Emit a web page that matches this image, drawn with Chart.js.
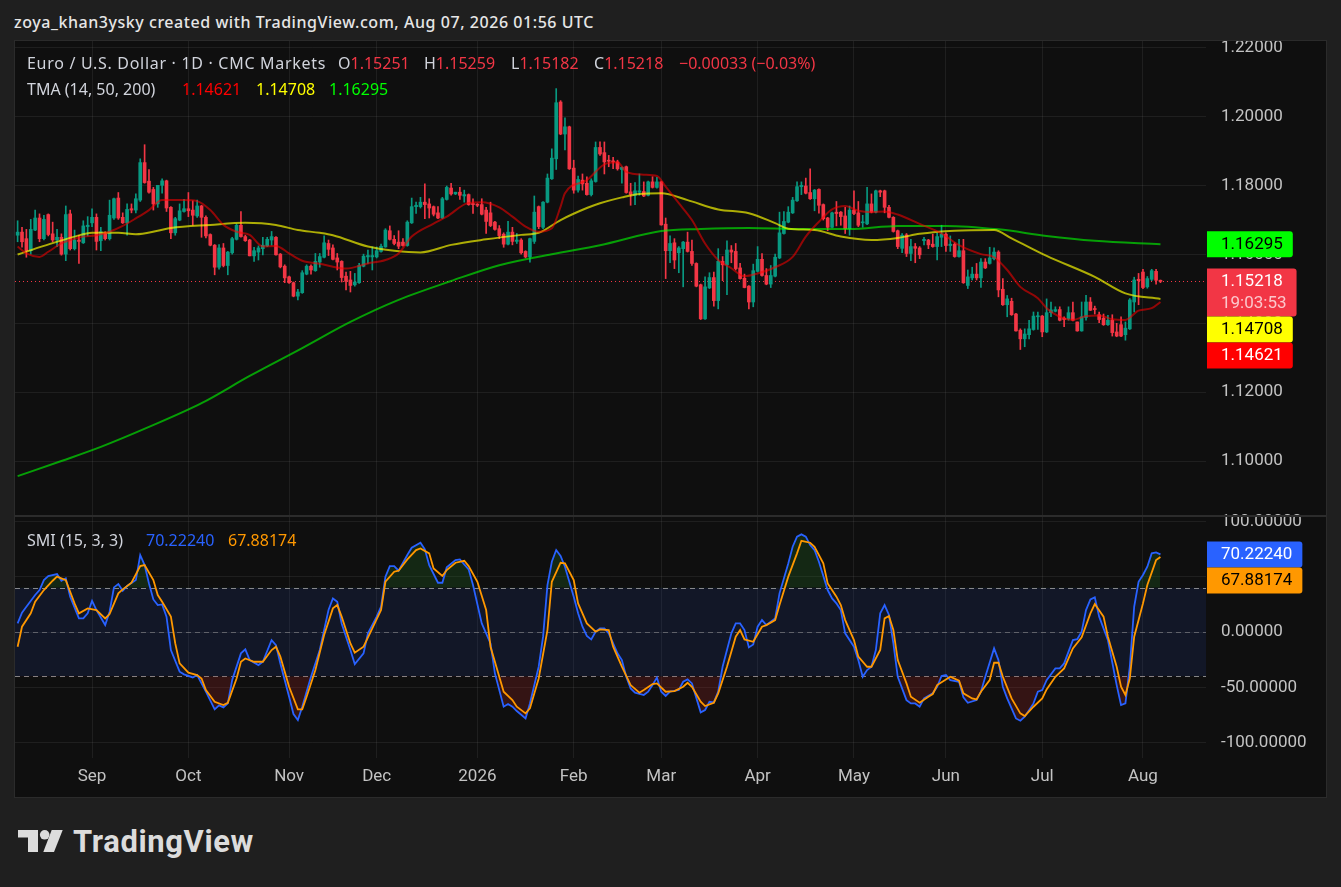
<!DOCTYPE html>
<html lang="en">
<head>
<meta charset="UTF-8">
<title>Euro / U.S. Dollar 1D</title>
<script src="https://cdn.jsdelivr.net/npm/chart.js"></script>
<style>
  html, body { margin: 0; padding: 0; background: #1f1f1f; }
  body { width: 1341px; height: 887px; position: relative; overflow: hidden; font-family: Roboto, "Noto Sans", sans-serif; }
  #header { position: absolute; left: 14px; top: 11px; line-height: 22px; color: #e6e6e6; font-family: "Noto Sans", sans-serif; font-size: 16px; font-weight: 500; letter-spacing: 0.55px; }
  #panel { position: absolute; left: 14px; top: 40px; width: 1311px; height: 756px; border: 1px solid #2b2b2b; background: #0f0f0f; }
  #panel canvas { position: absolute; left: 0; top: 0; }
  .lg { position: absolute; font-family: "Noto Sans", sans-serif; font-size: 16px; line-height: 20px; white-space: nowrap; color: #d1d4dc; }
  .dn { color: #f23645; }
  #brand { position: absolute; left: 73px; top: 826px; line-height: 31px; font-size: 31px; font-weight: 700; color: #dcdcdc; letter-spacing: 0.6px; }
</style>
</head>
<body>

<div id="header">zoya_khan3ysky created with TradingView.com, Aug 07, 2026 01:56 UTC</div>

<div id="panel"><canvas id="chart" width="1311" height="756"></canvas></div>

<!-- legends -->
<div class="lg" style="left:27px;top:53px;letter-spacing:0.7px">Euro / U.S. Dollar · 1D · CMC Markets</div>
<div class="lg" style="left:338px;top:53px">O<span class="dn" id="vO"></span></div>
<div class="lg" style="left:424px;top:53px">H<span class="dn" id="vH"></span></div>
<div class="lg" style="left:511px;top:53px">L<span class="dn" id="vL"></span></div>
<div class="lg" style="left:594px;top:53px">C<span class="dn" id="vC"></span></div>
<div class="lg dn" style="left:679px;top:53px" id="vChg"></div>

<div class="lg" style="left:27px;top:79px">TMA (14, 50, 200)</div>
<div class="lg" style="left:182px;top:79px;color:#ff0000" id="vT14"></div>
<div class="lg" style="left:256px;top:79px;color:#ffff00" id="vT50"></div>
<div class="lg" style="left:329px;top:79px;color:#00ff00" id="vT200"></div>

<div class="lg" style="left:27px;top:530px">SMI (15, 3, 3)</div>
<div class="lg" style="left:146px;top:530px;color:#2962ff" id="vSmi"></div>
<div class="lg" style="left:228px;top:530px;color:#ff9800" id="vSig"></div>

<!-- logo -->
<svg width="46" height="24" viewBox="0 0 46 24" style="position:absolute;left:18px;top:830px">
  <path d="M0 0H20V22H10V7.5H0Z" fill="#dcdcdc"/>
  <circle cx="26.7" cy="4.8" r="4.8" fill="#dcdcdc"/>
  <path d="M33.7 0H44.7L36 22H25.3Z" fill="#dcdcdc"/>
</svg>
<div id="brand">TradingView</div>

<script>
// daily candles, 7 Aug 2025 .. 7 Aug 2026 (bar index 0..261)
const opens = [
  1.1656,1.1665,1.1646,1.1611,1.1671,1.1706,1.1646,1.1716,1.1660,1.1642,
  1.1650,1.1601,1.1718,1.1617,1.1642,1.1634,1.1681,1.1692,1.1708,1.1640,
  1.1660,1.1646,1.1706,1.1764,1.1708,1.1692,1.1733,1.1729,1.1758,1.1867,
  1.1813,1.1789,1.1747,1.1801,1.1814,1.1737,1.1663,1.1700,1.1725,1.1733,
  1.1729,1.1712,1.1741,1.1708,1.1658,1.1627,1.1563,1.1619,1.1568,1.1605,
  1.1644,1.1685,1.1652,1.1642,1.1596,1.1607,1.1617,1.1625,1.1642,1.1650,
  1.1601,1.1566,1.1535,1.1518,1.1479,1.1489,1.1543,1.1566,1.1553,1.1578,
  1.1592,1.1632,1.1619,1.1590,1.1580,1.1537,1.1526,1.1512,1.1518,1.1566,
  1.1593,1.1593,1.1593,1.1609,1.1622,1.1669,1.1644,1.1636,1.1636,1.1626,
  1.1692,1.1739,1.1739,1.1752,1.1747,1.1739,1.1721,1.1706,1.1760,1.1793,
  1.1776,1.1781,1.1770,1.1774,1.1747,1.1745,1.1745,1.1729,1.1721,1.1694,
  1.1675,1.1659,1.1630,1.1665,1.1638,1.1642,1.1609,1.1593,1.1638,1.1739,
  1.1679,1.1752,1.1820,1.1878,1.2043,1.1950,1.1971,1.1851,1.1787,1.1816,
  1.1807,1.1774,1.1812,1.1911,1.1896,1.1874,1.1872,1.1869,1.1847,1.1855,
  1.1782,1.1772,1.1781,1.1783,1.1772,1.1811,1.1795,1.1811,1.1688,1.1611,
  1.1634,1.1605,1.1617,1.1636,1.1609,1.1574,1.1512,1.1413,1.1503,1.1533,
  1.1466,1.1580,1.1570,1.1613,1.1609,1.1561,1.1531,1.1508,1.1462,1.1551,
  1.1586,1.1539,1.1514,1.1537,1.1590,1.1661,1.1694,1.1721,1.1756,1.1797,
  1.1799,1.1780,1.1762,1.1789,1.1745,1.1706,1.1679,1.1723,1.1723,1.1712,
  1.1675,1.1729,1.1721,1.1692,1.1689,1.1747,1.1723,1.1785,1.1785,1.1737,
  1.1708,1.1669,1.1618,1.1657,1.1603,1.1623,1.1619,1.1640,1.1642,1.1630,
  1.1623,1.1650,1.1659,1.1626,1.1630,1.1594,1.1611,1.1510,1.1532,1.1543,
  1.1532,1.1578,1.1574,1.1588,1.1607,1.1499,1.1454,1.1464,1.1427,1.1380,
  1.1355,1.1367,1.1382,1.1419,1.1421,1.1375,1.1431,1.1435,1.1440,1.1415,
  1.1413,1.1431,1.1404,1.1378,1.1417,1.1462,1.1442,1.1425,1.1415,1.1396,
  1.1409,1.1375,1.1396,1.1367,1.1384,1.1462,1.1528,1.1549,1.1506,1.1528,
  1.1551,1.15251
];
const highs = [
  1.1698,1.1679,1.1673,1.1702,1.1729,1.1718,1.1714,1.1718,1.1694,1.1673,
  1.1660,1.1741,1.1729,1.1671,1.1656,1.1698,1.1710,1.1733,1.1718,1.1679,
  1.1666,1.1758,1.1764,1.1780,1.1721,1.1747,1.1747,1.1776,1.1878,1.1919,
  1.1847,1.1795,1.1801,1.1820,1.1816,1.1739,1.1708,1.1747,1.1760,1.1780,
  1.1756,1.1758,1.1743,1.1712,1.1660,1.1629,1.1629,1.1632,1.1609,1.1650,
  1.1689,1.1725,1.1656,1.1644,1.1621,1.1625,1.1650,1.1650,1.1667,1.1652,
  1.1603,1.1570,1.1537,1.1520,1.1499,1.1553,1.1570,1.1570,1.1603,1.1603,
  1.1654,1.1642,1.1628,1.1603,1.1582,1.1549,1.1551,1.1545,1.1574,1.1601,
  1.1613,1.1622,1.1622,1.1630,1.1675,1.1683,1.1655,1.1669,1.1646,1.1698,
  1.1764,1.1752,1.1766,1.1805,1.1762,1.1741,1.1739,1.1766,1.1799,1.1807,
  1.1781,1.1795,1.1787,1.1776,1.1762,1.1748,1.1762,1.1737,1.1752,1.1696,
  1.1684,1.1663,1.1696,1.1679,1.1661,1.1646,1.1611,1.1648,1.1770,1.1741,
  1.1754,1.1834,1.1907,1.2082,1.2047,1.1997,1.1973,1.1874,1.1828,1.1834,
  1.1826,1.1820,1.1927,1.1927,1.1927,1.1888,1.1882,1.1874,1.1855,1.1857,
  1.1807,1.1809,1.1834,1.1811,1.1813,1.1826,1.1824,1.1813,1.1706,1.1654,
  1.1646,1.1623,1.1638,1.1665,1.1642,1.1576,1.1514,1.1535,1.1547,1.1549,
  1.1617,1.1594,1.1640,1.1626,1.1632,1.1574,1.1543,1.1510,1.1572,1.1623,
  1.1603,1.1559,1.1568,1.1601,1.1723,1.1725,1.1739,1.1766,1.1811,1.1811,
  1.1822,1.1849,1.1789,1.1791,1.1747,1.1708,1.1723,1.1754,1.1725,1.1737,
  1.1741,1.1785,1.1754,1.1714,1.1795,1.1776,1.1787,1.1787,1.1787,1.1743,
  1.1710,1.1671,1.1661,1.1661,1.1644,1.1632,1.1623,1.1650,1.1644,1.1659,
  1.1663,1.1685,1.1663,1.1654,1.1634,1.1644,1.1644,1.1555,1.1563,1.1574,
  1.1588,1.1588,1.1621,1.1619,1.1611,1.1530,1.1481,1.1473,1.1429,1.1384,
  1.1384,1.1409,1.1433,1.1433,1.1423,1.1471,1.1462,1.1448,1.1448,1.1419,
  1.1448,1.1462,1.1404,1.1462,1.1481,1.1475,1.1450,1.1433,1.1427,1.1423,
  1.1425,1.1400,1.1419,1.1404,1.1472,1.1534,1.1545,1.1557,1.1536,1.1557,
  1.1557,1.15259
];
const lows = [
  1.1637,1.1621,1.1592,1.1601,1.1669,1.1637,1.1642,1.1654,1.1637,1.1623,
  1.1598,1.1582,1.1613,1.1613,1.1574,1.1632,1.1654,1.1681,1.1613,1.1611,
  1.1642,1.1642,1.1702,1.1702,1.1690,1.1656,1.1721,1.1721,1.1754,1.1807,
  1.1778,1.1729,1.1737,1.1778,1.1725,1.1646,1.1656,1.1698,1.1723,1.1710,
  1.1685,1.1708,1.1650,1.1648,1.1625,1.1541,1.1557,1.1564,1.1541,1.1601,
  1.1642,1.1650,1.1638,1.1596,1.1580,1.1584,1.1599,1.1623,1.1627,1.1598,
  1.1561,1.1518,1.1516,1.1477,1.1468,1.1487,1.1541,1.1543,1.1551,1.1563,
  1.1590,1.1597,1.1584,1.1555,1.1520,1.1497,1.1491,1.1508,1.1516,1.1564,
  1.1574,1.1555,1.1590,1.1607,1.1621,1.1642,1.1628,1.1617,1.1624,1.1624,
  1.1690,1.1719,1.1735,1.1704,1.1706,1.1712,1.1704,1.1704,1.1758,1.1772,
  1.1774,1.1760,1.1752,1.1743,1.1719,1.1739,1.1715,1.1661,1.1681,1.1671,
  1.1646,1.1621,1.1628,1.1628,1.1632,1.1601,1.1590,1.1578,1.1632,1.1675,
  1.1675,1.1750,1.1818,1.1847,1.1948,1.1904,1.1847,1.1778,1.1781,1.1787,
  1.1772,1.1770,1.1810,1.1888,1.1834,1.1855,1.1849,1.1845,1.1807,1.1778,
  1.1743,1.1745,1.1772,1.1768,1.1770,1.1793,1.1793,1.1685,1.1530,1.1576,
  1.1559,1.1547,1.1506,1.1607,1.1568,1.1506,1.1411,1.1411,1.1501,1.1450,
  1.1442,1.1524,1.1483,1.1576,1.1555,1.1528,1.1503,1.1442,1.1448,1.1549,
  1.1537,1.1512,1.1504,1.1535,1.1588,1.1659,1.1692,1.1719,1.1754,1.1774,
  1.1776,1.1760,1.1727,1.1720,1.1700,1.1669,1.1677,1.1683,1.1685,1.1661,
  1.1656,1.1716,1.1681,1.1679,1.1687,1.1721,1.1721,1.1768,1.1721,1.1706,
  1.1665,1.1617,1.1605,1.1594,1.1582,1.1576,1.1588,1.1628,1.1617,1.1621,
  1.1584,1.1623,1.1609,1.1609,1.1592,1.1592,1.1516,1.1501,1.1526,1.1526,
  1.1504,1.1559,1.1572,1.1584,1.1477,1.1452,1.1419,1.1423,1.1377,1.1324,
  1.1332,1.1355,1.1380,1.1382,1.1361,1.1373,1.1419,1.1433,1.1407,1.1390,
  1.1409,1.1407,1.1377,1.1377,1.1409,1.1437,1.1427,1.1402,1.1394,1.1394,
  1.1363,1.1361,1.1361,1.1351,1.1382,1.1433,1.1454,1.1501,1.1502,1.1524,
  1.1514,1.15182
];
const closes = [
  1.1665,1.1637,1.1611,1.1673,1.1706,1.1646,1.1702,1.1658,1.1642,1.1650,
  1.1601,1.1716,1.1617,1.1642,1.1638,1.1683,1.1685,1.1708,1.1638,1.1666,
  1.1646,1.1714,1.1762,1.1706,1.1692,1.1731,1.1729,1.1762,1.1867,1.1809,
  1.1781,1.1747,1.1801,1.1814,1.1735,1.1663,1.1704,1.1727,1.1733,1.1727,
  1.1714,1.1741,1.1708,1.1654,1.1627,1.1563,1.1619,1.1568,1.1607,1.1646,
  1.1685,1.1652,1.1640,1.1596,1.1611,1.1619,1.1627,1.1644,1.1652,1.1599,
  1.1564,1.1532,1.1518,1.1479,1.1491,1.1547,1.1566,1.1555,1.1580,1.1594,
  1.1634,1.1615,1.1586,1.1578,1.1533,1.1522,1.1510,1.1520,1.1568,1.1595,
  1.1597,1.1597,1.1611,1.1624,1.1671,1.1644,1.1632,1.1624,1.1626,1.1694,
  1.1739,1.1743,1.1752,1.1745,1.1735,1.1717,1.1706,1.1762,1.1795,1.1776,
  1.1781,1.1772,1.1774,1.1745,1.1745,1.1743,1.1717,1.1696,1.1684,1.1673,
  1.1655,1.1630,1.1665,1.1638,1.1642,1.1605,1.1593,1.1646,1.1723,1.1681,
  1.1752,1.1822,1.1880,1.2041,1.1950,1.1971,1.1849,1.1787,1.1818,1.1805,
  1.1774,1.1814,1.1911,1.1892,1.1869,1.1871,1.1869,1.1849,1.1853,1.1780,
  1.1774,1.1785,1.1785,1.1770,1.1811,1.1795,1.1811,1.1686,1.1611,1.1632,
  1.1584,1.1619,1.1636,1.1609,1.1574,1.1508,1.1413,1.1506,1.1533,1.1466,
  1.1580,1.1570,1.1613,1.1607,1.1559,1.1530,1.1504,1.1462,1.1553,1.1586,
  1.1539,1.1514,1.1539,1.1592,1.1663,1.1696,1.1723,1.1758,1.1797,1.1801,
  1.1778,1.1762,1.1787,1.1743,1.1704,1.1679,1.1721,1.1719,1.1710,1.1675,
  1.1729,1.1719,1.1685,1.1694,1.1747,1.1723,1.1785,1.1781,1.1737,1.1708,
  1.1667,1.1623,1.1656,1.1603,1.1623,1.1618,1.1599,1.1644,1.1628,1.1623,
  1.1652,1.1659,1.1626,1.1630,1.1594,1.1611,1.1518,1.1535,1.1543,1.1532,
  1.1578,1.1561,1.1590,1.1607,1.1497,1.1454,1.1471,1.1425,1.1378,1.1355,
  1.1369,1.1384,1.1421,1.1421,1.1375,1.1431,1.1439,1.1440,1.1409,1.1411,
  1.1431,1.1409,1.1378,1.1419,1.1462,1.1438,1.1440,1.1411,1.1396,1.1409,
  1.1373,1.1363,1.1363,1.1386,1.1468,1.1526,1.1524,1.1504,1.1530,1.1553,
  1.15251,1.15218
];

// month ticks (bar index of first session in the month)
const tickIdx = [17, 39, 62, 82, 105, 127, 147, 169, 191, 212, 234, 257];
const tickLabels = ['Sep', 'Oct', 'Nov', 'Dec', '2026', 'Feb', 'Mar', 'Apr', 'May', 'Jun', 'Jul', 'Aug'];
const priceTicks = [1.10, 1.12, 1.14, 1.16, 1.18, 1.20, 1.22];
const smiTicks = [-100, -50, 0, 50, 100];
const smiLevels = [40, 0, -40];
const countdown = '19:03:53';

// TMA lines, [bar index, value]
const tma14 = [[0,1.1623],[2,1.1603],[5,1.1593],[7,1.1608],[10,1.1632],[12,1.1642],[15,1.1652],[18,1.1656],
  [21,1.1666],[24,1.1683],[27,1.1705],[30,1.1729],[33,1.1758],[38,1.1758],[41,1.1755],[44,1.1729],[47,1.1686],
  [50,1.1666],[53,1.1657],[56,1.1623],[59,1.1625],[62,1.1603],[65,1.1582],[69,1.1573],[75,1.1559],[80,1.1574],
  [84,1.1584],[87,1.1603],[90,1.1652],[95,1.1690],[98,1.1710],[103,1.1750],[106,1.1752],[110,1.1737],[113,1.1710],
  [116,1.1681],[119,1.1666],[122,1.1676],[124,1.1739],[125,1.1778],[130,1.1816],[134,1.1862],[137,1.1868],
  [139,1.1840],[143,1.1832],[146,1.1828],[148,1.1797],[151,1.1749],[154,1.1700],[157,1.1632],[160,1.1584],
  [163,1.1560],[166,1.1537],[169,1.1545],[173,1.1563],[177,1.1593],[180,1.1652],[183,1.1695],[186,1.1731],
  [189,1.1741],[192,1.1727],[195,1.1723],[198,1.1725],[201,1.1716],[206,1.1689],[211,1.1661],[215,1.1627],
  [220,1.1601],[223,1.1592],[226,1.1555],[229,1.1506],[233,1.1473],[235,1.1444],[238,1.1419],[241,1.1410],
  [244,1.1421],[247,1.1423],[250,1.1412],[253,1.1410],[256,1.1437],[259,1.1444],[261,1.14621]];
const tma50 = [[0,1.1600],[6,1.1625],[13,1.1652],[17,1.1663],[23,1.1663],[27,1.1659],[32,1.1669],[35,1.1677],
  [44,1.1686],[52,1.1692],[59,1.1686],[64,1.1671],[69,1.1663],[72,1.1656],[80,1.1623],[86,1.1611],[92,1.1606],
  [99,1.1628],[107,1.1644],[115,1.1657],[119,1.1663],[124,1.1700],[130,1.1735],[133,1.1749],[138,1.1766],
  [142,1.1776],[147,1.1778],[153,1.1758],[160,1.1731],[167,1.1720],[173,1.1691],[176,1.1675],[182,1.1671],
  [188,1.1652],[195,1.1642],[201,1.1648],[206,1.1660],[214,1.1669],[223,1.1671],[227,1.1647],[235,1.1596],
  [246,1.1535],[253,1.1487],[261,1.14708]];
const tma200 = [[0,1.0956],[10,1.1000],[19,1.1041],[30,1.1099],[42,1.1168],[53,1.1247],[65,1.1328],[76,1.1404],
  [87,1.1468],[99,1.1523],[110,1.1569],[122,1.1601],[133,1.1627],[147,1.1668],[156,1.1674],[167,1.1677],
  [179,1.1674],[190,1.1674],[201,1.1683],[212,1.1683],[224,1.1673],[235,1.1654],[246,1.1640],[261,1.16295]];

// SMI (15,3,3) and its signal line, [bar index, value]
const smi = [[0,7.8],[1,17.5],[2,22.9],[4,33.5],[5,38.0],[6,47.0],[7,50.7],[9,52.5],[10,46.4],[11,48.6],[12,32.0],
  [14,12.3],[15,12.3],[16,16.9],[17,28.3],[18,19.9],[20,6.3],[21,18.4],[22,40.4],[23,43.4],[24,37.4],[25,41.6],
  [27,47.0],[28,69.7],[29,60.6],[30,44.0],[31,29.5],[32,24.4],[33,25.0],[34,13.9],[35,-16.3],[37,-35.9],[38,-38.3],
  [40,-41.1],[41,-38.9],[43,-54.0],[45,-70.0],[46,-66.4],[47,-68.2],[48,-64.6],[49,-43.5],[51,-19.3],[52,-15.7],
  [53,-25.4],[55,-29.9],[56,-26.9],[58,-7.3],[59,-11.8],[60,-28.4],[62,-58.6],[63,-74.2],[64,-79.7],[65,-67.6],
  [67,-40.4],[69,-16.3],[71,19.9],[72,30.4],[73,27.4],[74,7.8],[76,-16.3],[77,-29.0],[79,-19.3],[80,-1.2],
  [82,13.9],[83,22.9],[84,50.1],[85,59.7],[86,59.7],[87,55.5],[89,69.7],[90,76.3],[92,80.8],[93,74.8],[94,60.6],
  [96,44.6],[97,44.6],[98,58.5],[100,65.1],[101,65.7],[103,56.7],[104,42.5],[106,7.8],[108,-10.3],[109,-37.4],
  [111,-67.6],[112,-65.2],[113,-67.6],[114,-71.5],[116,-78.2],[117,-64.6],[119,-31.4],[120,-4.2],[121,42.5],
  [122,63.6],[123,74.2],[124,68.8],[125,59.1],[127,32.0],[128,16.9],[129,4.8],[130,-3.6],[131,-6.7],[132,0.3],
  [133,3.3],[134,3.3],[135,-1.2],[137,-19.3],[138,-25.4],[139,-40.5],[140,-51.0],[141,-54.9],[143,-57.0],
  [144,-54.0],[145,-48.0],[146,-41.3],[147,-54.0],[148,-57.9],[149,-54.0],[151,-52.5],[152,-45.0],[153,-42.9],
  [154,-46.5],[156,-72.7],[157,-70.6],[158,-63.1],[159,-63.7],[160,-54.0],[161,-31.4],[163,-1.2],[164,7.8],
  [165,7.8],[166,1.8],[167,-13.9],[168,-11.2],[169,4.8],[170,10.8],[171,6.3],[173,12.3],[174,35.0],[176,62.1],
  [177,77.2],[178,86.3],[179,88.4],[180,86.3],[181,78.7],[182,74.2],[183,63.6],[185,38.0],[186,30.4],[187,25.9],
  [188,19.9],[189,-1.2],[191,-13.3],[192,-25.4],[193,-40.5],[194,-34.4],[195,-31.4],[196,-16.3],[197,16.9],
  [198,24.4],[199,15.4],[200,-10.3],[201,-40.5],[203,-61.6],[204,-64.6],[205,-64.6],[206,-67.6],[207,-60.1],
  [209,-55.5],[210,-49.5],[211,-39.8],[212,-38.9],[213,-43.5],[215,-45.0],[216,-59.2],[217,-64.0],[219,-61.6],
  [220,-54.0],[221,-40.5],[223,-14.8],[224,-25.4],[225,-49.5],[226,-60.1],[228,-78.2],[229,-80.3],[230,-76.7],
  [232,-64.6],[233,-54.0],[234,-52.5],[235,-43.5],[237,-32.9],[238,-32.9],[239,-28.4],[241,-7.3],[242,-6.4],
  [243,0.3],[244,19.9],[245,29.5],[246,31.4],[247,13.9],[249,-7.3],[251,-48.0],[252,-66.1],[253,-64.6],
  [254,-31.4],[255,22.9],[256,45.5],[257,51.6],[258,59.1],[259,71.2],[260,72.1],[261,70.2224]];
const smiSignal = [[0,-13.3],[1,4.8],[3,16.9],[4,27.4],[6,38.0],[8,46.4],[9,50.1],[11,47.0],[13,25.9],[14,16.9],
  [16,21.4],[18,19.9],[20,12.3],[21,16.3],[23,35.0],[24,38.6],[26,44.6],[28,59.7],[29,60.6],[31,47.0],[32,33.5],
  [33,27.4],[35,13.9],[36,-10.3],[37,-28.4],[39,-36.8],[41,-38.9],[42,-42.0],[43,-52.5],[45,-63.1],[47,-66.1],
  [48,-64.0],[50,-42.0],[51,-26.9],[52,-23.9],[54,-26.9],[56,-26.9],[58,-16.3],[59,-13.3],[60,-22.3],[62,-49.5],
  [64,-70.0],[65,-70.0],[66,-58.6],[68,-34.4],[70,-2.7],[72,21.4],[73,24.4],[74,13.9],[76,-10.3],[77,-18.7],
  [79,-13.3],[81,3.3],[83,19.9],[84,45.5],[86,54.6],[87,55.5],[89,65.7],[91,74.2],[92,75.7],[94,71.2],[95,57.6],
  [97,50.7],[98,56.1],[100,62.7],[102,64.5],[103,59.7],[105,45.5],[107,19.9],[108,-13.3],[110,-40.4],[111,-54.0],
  [113,-61.6],[114,-67.6],[116,-73.6],[117,-69.1],[119,-42.0],[121,1.8],[122,45.5],[124,62.7],[125,62.1],
  [127,47.0],[128,25.9],[130,7.8],[132,0.3],[133,2.4],[135,1.8],[136,-13.3],[138,-31.4],[140,-48.0],[142,-54.9],
  [143,-52.5],[145,-47.1],[146,-46.5],[148,-54.0],[150,-53.4],[152,-49.5],[153,-45.9],[154,-49.5],[156,-63.1],
  [157,-67.0],[159,-64.0],[160,-55.5],[162,-31.4],[164,-4.2],[165,1.8],[166,-6.7],[168,-8.8],[170,4.8],[171,6.3],
  [173,10.8],[174,24.4],[176,50.1],[178,71.2],[179,82.6],[181,80.8],[182,77.2],[184,62.1],[185,44.0],[187,32.0],
  [188,24.4],[189,10.8],[191,-7.3],[192,-22.3],[194,-31.4],[195,-31.4],[197,-16.3],[198,12.3],[199,14.5],
  [200,1.8],[201,-25.4],[203,-46.5],[204,-58.5],[206,-64.0],[208,-58.6],[209,-56.1],[210,-48.0],[212,-42.9],
  [213,-40.5],[215,-44.1],[216,-55.5],[218,-60.1],[219,-61.0],[220,-54.0],[222,-43.5],[223,-27.8],[224,-27.8],
  [225,-40.5],[227,-60.1],[229,-73.6],[230,-76.0],[232,-67.6],[234,-60.1],[235,-51.9],[237,-40.5],[239,-32.9],
  [241,-14.8],[243,-4.8],[245,16.9],[246,25.3],[248,13.9],[249,-4.2],[251,-31.4],[252,-49.5],[253,-57.0],
  [254,-42.0],[255,-4.2],[257,25.9],[258,42.5],[260,65.1],[261,67.88174]];

const UP = '#089981', DOWN = '#f23645';
const AXIS = '#c3c3c3', GRID = 'rgba(255,255,255,0.065)';
const last = closes.length - 1;
const lastOf = arr => arr[arr.length - 1][1];

Chart.defaults.font.family = 'Roboto, "Noto Sans", sans-serif';

const candleColor = c => closes[c.dataIndex] >= opens[c.dataIndex] ? UP : DOWN;
const pts = arr => arr.map(([x, y]) => ({ x, y }));

// SMI band, dashed levels, last price line, pane separator and price tags
const overlay = {
  id: 'overlay',
  beforeDatasetsDraw(chart) {
    const { ctx, chartArea: a, scales: { y, y2 } } = chart;
    ctx.save();
    const t = y2.getPixelForValue(40), b = y2.getPixelForValue(-40);
    ctx.fillStyle = 'rgba(40,80,200,0.13)';
    ctx.fillRect(a.left, t, a.right - a.left, b - t);
    ctx.lineWidth = 1;
    ctx.setLineDash([5, 4]);
    smiLevels.forEach(v => {
      const py = Math.round(y2.getPixelForValue(v)) + 0.5;
      ctx.strokeStyle = v === 0 ? 'rgba(150,150,150,0.55)' : 'rgba(175,175,175,0.75)';
      ctx.beginPath(); ctx.moveTo(a.left, py); ctx.lineTo(a.right, py); ctx.stroke();
    });
    ctx.setLineDash([1, 3]);
    ctx.strokeStyle = DOWN;
    const py = Math.round(y.getPixelForValue(closes[last])) + 0.5;
    ctx.beginPath(); ctx.moveTo(a.left, py); ctx.lineTo(a.right, py); ctx.stroke();
    ctx.restore();
  },
  afterDraw(chart) {
    const { ctx, chartArea: a, scales: { y, y2 } } = chart;
    ctx.save();
    ctx.strokeStyle = '#2c2c2c';
    ctx.lineWidth = 2;
    ctx.beginPath(); ctx.moveTo(0, y.bottom); ctx.lineTo(chart.width, y.bottom); ctx.stroke();

    const drawTags = (scale, tags) => {
      const list = tags.map(t => ({ ...t, top: scale.getPixelForValue(t.value) - 13 }))
        .sort((p, q) => p.top - q.top);
      let prev = -Infinity;
      ctx.font = '17px Roboto, "Noto Sans", sans-serif';
      ctx.textBaseline = 'middle';
      ctx.textAlign = 'left';
      list.forEach(t => {
        const h = t.sub ? 48 : 26;
        const top = Math.max(t.top, prev);
        prev = top + h;
        const w = Math.max(ctx.measureText(t.text).width, t.sub ? ctx.measureText(t.sub).width : 0);
        ctx.fillStyle = t.bg;
        ctx.beginPath();
        ctx.roundRect(a.right + 1, top, 14 + w + 10, h, [0, 3, 3, 0]);
        ctx.fill();
        ctx.fillStyle = t.fg;
        ctx.fillText(t.text, a.right + 15, top + 13.5);
        if (t.sub) {
          ctx.fillStyle = 'rgba(255,255,255,0.72)';
          ctx.fillText(t.sub, a.right + 15, top + 35);
        }
      });
    };
    drawTags(y, [
      { value: lastOf(tma200), text: lastOf(tma200).toFixed(5), bg: '#00ff00', fg: '#000' },
      { value: closes[last], text: closes[last].toFixed(5), sub: countdown, bg: '#f23645', fg: '#fff' },
      { value: lastOf(tma50), text: lastOf(tma50).toFixed(5), bg: '#ffff00', fg: '#000' },
      { value: lastOf(tma14), text: lastOf(tma14).toFixed(5), bg: '#ff0000', fg: '#fff' }
    ]);
    drawTags(y2, [
      { value: lastOf(smi), text: lastOf(smi).toFixed(5), bg: '#2962ff', fg: '#fff' },
      { value: lastOf(smiSignal), text: lastOf(smiSignal).toFixed(5), bg: '#ff9800', fg: '#000' }
    ]);
    ctx.restore();
  }
};

const idx = closes.map((_, i) => i);

new Chart(document.getElementById('chart'), {
  type: 'bar',
  data: {
    datasets: [
      { type: 'line', label: 'oversold fill', data: pts(smi), yAxisID: 'y2', borderWidth: 0, pointRadius: 0,
        fill: { target: { value: -40 }, above: 'rgba(0,0,0,0)', below: 'rgba(150,35,35,0.28)' }, order: 9 },
      { label: 'wick', data: idx.map(i => ({ x: i, y: [lows[i], highs[i]] })), yAxisID: 'y',
        backgroundColor: candleColor, barThickness: 1, grouped: false, order: 8 },
      { label: 'body', data: idx.map(i => ({ x: i, y: [opens[i], closes[i]] })), yAxisID: 'y',
        backgroundColor: candleColor, barThickness: 3, minBarLength: 1, grouped: false, order: 7 },
      { type: 'line', label: 'TMA 200', data: pts(tma200), yAxisID: 'y', borderColor: 'rgba(0,255,0,0.6)',
        borderWidth: 2, pointRadius: 0, cubicInterpolationMode: 'monotone', order: 3 },
      { type: 'line', label: 'TMA 50', data: pts(tma50), yAxisID: 'y', borderColor: 'rgba(255,255,0,0.66)',
        borderWidth: 2, pointRadius: 0, cubicInterpolationMode: 'monotone', order: 2 },
      { type: 'line', label: 'TMA 14', data: pts(tma14), yAxisID: 'y', borderColor: 'rgba(255,0,0,0.55)',
        borderWidth: 2, pointRadius: 0, cubicInterpolationMode: 'monotone', order: 1 },
      { type: 'line', label: 'SMI', data: pts(smi), yAxisID: 'y2', borderColor: '#2962ff', borderWidth: 1.8,
        pointRadius: 0, tension: 0,
        fill: { target: { value: 40 }, above: 'rgba(40,130,40,0.22)', below: 'rgba(0,0,0,0)' }, order: 1 },
      { type: 'line', label: 'Signal', data: pts(smiSignal), yAxisID: 'y2', borderColor: '#ff9800',
        borderWidth: 1.8, pointRadius: 0, tension: 0, order: 0 }
    ]
  },
  options: {
    responsive: false,
    animation: false,
    events: [],
    layout: { padding: 0, autoPadding: false },
    plugins: { legend: { display: false }, tooltip: { enabled: false } },
    scales: {
      x: {
        type: 'linear', position: 'bottom', min: -0.6, max: 271.4, offset: false,
        afterBuildTicks: s => { s.ticks = tickIdx.map(v => ({ value: v })); },
        afterFit: s => { s.height = 39; s.paddingLeft = 0; s.paddingRight = 0; },
        ticks: { autoSkip: false, maxRotation: 0, padding: 9, color: AXIS, font: { size: 17 },
                 callback: v => tickLabels[tickIdx.indexOf(v)] },
        grid: { color: GRID, drawTicks: false, offset: false },
        border: { display: false }
      },
      y: {
        type: 'linear', position: 'right', stack: 'panes', stackWeight: 475, min: 1.08402, max: 1.22203,
        afterBuildTicks: s => { s.ticks = priceTicks.map(v => ({ value: v })); },
        afterFit: s => { s.width = 120; s.paddingTop = 0; s.paddingBottom = 0; },
        ticks: { padding: 15, color: AXIS, font: { size: 17 }, callback: v => v.toFixed(5) },
        grid: { color: GRID, drawTicks: false },
        border: { display: false }
      },
      y2: {
        type: 'linear', position: 'right', stack: 'panes', stackWeight: 242, min: -114, max: 105,
        afterBuildTicks: s => { s.ticks = smiTicks.map(v => ({ value: v })); },
        afterFit: s => { s.width = 120; s.paddingTop = 0; s.paddingBottom = 0; },
        ticks: { padding: 15, color: AXIS, font: { size: 17 }, callback: v => v.toFixed(5) },
        grid: { color: GRID, drawTicks: false },
        border: { display: false }
      }
    }
  },
  plugins: [overlay]
});

// legend values
const fmt = v => v.toFixed(5).replace('-', '\u2212');
document.getElementById('vO').textContent = fmt(opens[last]);
document.getElementById('vH').textContent = fmt(highs[last]);
document.getElementById('vL').textContent = fmt(lows[last]);
document.getElementById('vC').textContent = fmt(closes[last]);
const chg = closes[last] - closes[last - 1];
document.getElementById('vChg').textContent = fmt(chg) + ' (' + (chg / closes[last - 1] * 100).toFixed(2).replace('-', '\u2212') + '%)';
document.getElementById('vT14').textContent = fmt(lastOf(tma14));
document.getElementById('vT50').textContent = fmt(lastOf(tma50));
document.getElementById('vT200').textContent = fmt(lastOf(tma200));
document.getElementById('vSmi').textContent = fmt(lastOf(smi));
document.getElementById('vSig').textContent = fmt(lastOf(smiSignal));
</script>
</body>
</html>
